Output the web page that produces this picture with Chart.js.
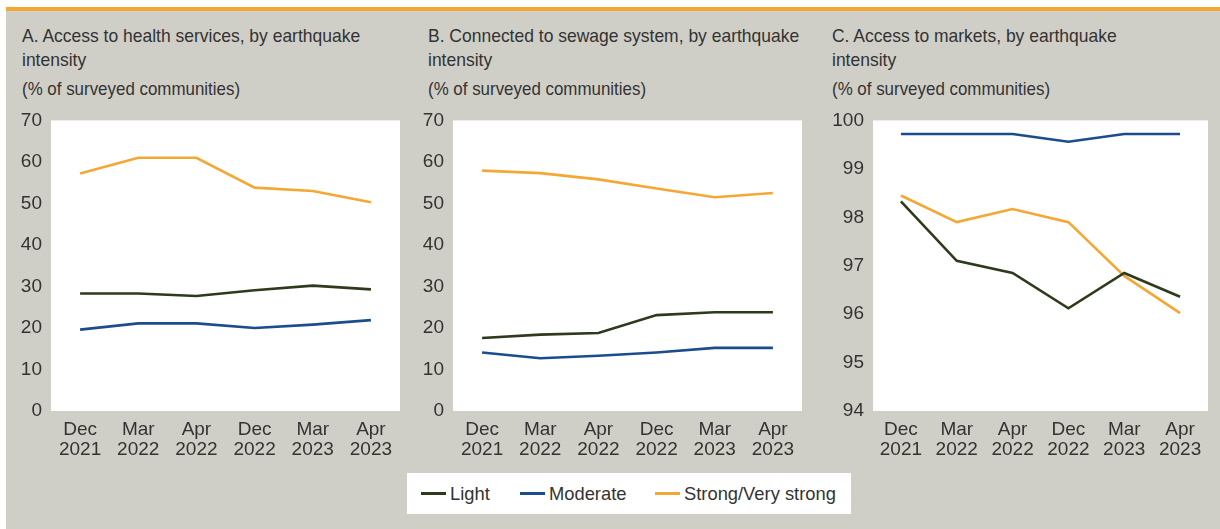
<!DOCTYPE html>
<html>
<head>
<meta charset="utf-8">
<script src="https://cdn.jsdelivr.net/npm/chart.js@4"></script>
<style>
  body { margin: 0; background: #fff; width: 1220px; height: 529px; overflow: hidden; position: relative;
         font-family: "Liberation Sans", sans-serif; color: #333; }
  #bar { position: absolute; left: 6px; top: 7px; width: 1214px; height: 4px; background: #f5a733; }
  #panel { position: absolute; left: 6px; top: 11px; width: 1214px; height: 518px; background: #d0cfc7; }
  .title { position: absolute; font-size: 19px; line-height: 24px; white-space: nowrap;
           transform: scaleX(0.92); transform-origin: left top; }
  .sub { position: absolute; font-size: 19px; white-space: nowrap;
         transform: scaleX(0.89); transform-origin: left top; }
  canvas { position: absolute; }
  #legend { position: absolute; left: 407px; top: 473px; width: 444px; height: 41px; background: #fff; }
  .item { position: absolute; top: 0; height: 41px; display: flex; align-items: center; white-space: nowrap; }
  .swatch { width: 25px; height: 3px; margin-right: 4px; }
  .label { font-size: 19px; display: inline-block; transform: scaleX(0.965); transform-origin: left center; }
</style>
</head>
<body>
<div id="bar"></div>
<div id="panel"></div>

<div class="title" style="left:22px;top:24px">A. Access to health services, by earthquake<br>intensity</div>
<div class="sub" style="left:22px;top:78px">(% of surveyed communities)</div>
<div class="title" style="left:428px;top:24px">B. Connected to sewage system, by earthquake<br>intensity</div>
<div class="sub" style="left:428px;top:78px">(% of surveyed communities)</div>
<div class="title" style="left:832px;top:24px">C. Access to markets, by earthquake<br>intensity</div>
<div class="sub" style="left:832px;top:78px">(% of surveyed communities)</div>

<canvas id="chartA" width="400" height="366" style="left:6px;top:100px"></canvas>
<canvas id="chartB" width="400" height="366" style="left:408px;top:100px"></canvas>
<canvas id="chartC" width="386" height="366" style="left:828px;top:100px"></canvas>

<div id="legend"></div>

<script>
// Periodos de la encuesta
var periodos = [["Dec", "2021"], ["Mar", "2022"], ["Apr", "2022"], ["Dec", "2022"], ["Mar", "2023"], ["Apr", "2023"]];
var series = ["Light", "Moderate", "Strong/Very strong"];
var colores = ["#2d3a1c", "#1b4d8e", "#f5a733"];

// A. Acceso a servicios de salud
var saludLight = [28.3, 28.3, 27.7, 29.1, 30.2, 29.3];
var saludModerate = [19.6, 21.1, 21.1, 20.0, 20.8, 21.9];
var saludStrong = [57.2, 61.0, 61.0, 53.8, 53.0, 50.3];

// B. Conectado al sistema de alcantarillado
var drenajeLight = [17.6, 18.4, 18.8, 23.1, 23.8, 23.8];
var drenajeModerate = [14.1, 12.7, 13.3, 14.1, 15.2, 15.2];
var drenajeStrong = [57.9, 57.3, 55.8, 53.6, 51.5, 52.5];

// C. Acceso a mercados
var mercadoLight = [98.33, 97.1, 96.85, 96.12, 96.85, 96.36];
var mercadoModerate = [99.72, 99.72, 99.72, 99.56, 99.72, 99.72];
var mercadoStrong = [98.45, 97.9, 98.17, 97.9, 96.79, 96.02];

var fuente = '"Liberation Sans", sans-serif';

// Fondo blanco del área del gráfico
var fondoBlanco = {
    id: 'fondoBlanco',
    beforeDraw: function (chart) {
        var a = chart.chartArea;
        chart.ctx.save();
        chart.ctx.fillStyle = '#ffffff';
        chart.ctx.fillRect(a.left, a.top, a.right - a.left, a.bottom - a.top);
        chart.ctx.restore();
    }
};

function crearGrafico(id, valores, min, max, paso) {
    var ctx = document.getElementById(id).getContext('2d');
    new Chart(ctx, {
        type: 'line',
        data: {
            labels: periodos,
            datasets: valores.map(function (v, i) {
                return {
                    label: series[i],
                    data: v,
                    borderColor: colores[i],
                    backgroundColor: colores[i],
                    borderWidth: 2.6,
                    pointRadius: 0,
                    tension: 0,
                    fill: false
                };
            })
        },
        options: {
            responsive: false,
            animation: false,
            layout: { padding: { top: 8, left: 0, right: 6, bottom: 0 } },
            plugins: { legend: { display: false }, tooltip: { enabled: false } },
            scales: {
                x: {
                    offset: true,
                    grid: { display: false, drawTicks: false },
                    border: { display: false },
                    ticks: { color: '#333', padding: 9, maxRotation: 0, autoSkip: false,
                             font: { family: fuente, size: 19, lineHeight: 1.05 } },
                    afterFit: function (s) { s.height = 55; }
                },
                y: {
                    min: min, max: max,
                    grid: { display: false, drawTicks: false },
                    border: { display: false },
                    ticks: { stepSize: paso, color: '#333', padding: 9,
                             font: { family: fuente, size: 19 } },
                    afterFit: function (s) { s.width = 45; }
                }
            }
        },
        plugins: [fondoBlanco]
    });
}

crearGrafico('chartA', [saludLight, saludModerate, saludStrong], 0, 70, 10);
crearGrafico('chartB', [drenajeLight, drenajeModerate, drenajeStrong], 0, 70, 10);
crearGrafico('chartC', [mercadoLight, mercadoModerate, mercadoStrong], 94, 100, 1);

// Leyenda compartida
var leyenda = document.getElementById('legend');
var posiciones = [14, 113, 248];
series.forEach(function (nombre, i) {
    var item = document.createElement('div');
    item.className = 'item';
    item.style.left = posiciones[i] + 'px';
    item.innerHTML = '<span class="swatch" style="background:' + colores[i] + '"></span><span class="label">' + nombre + '</span>';
    leyenda.appendChild(item);
});
</script>
</body>
</html>
